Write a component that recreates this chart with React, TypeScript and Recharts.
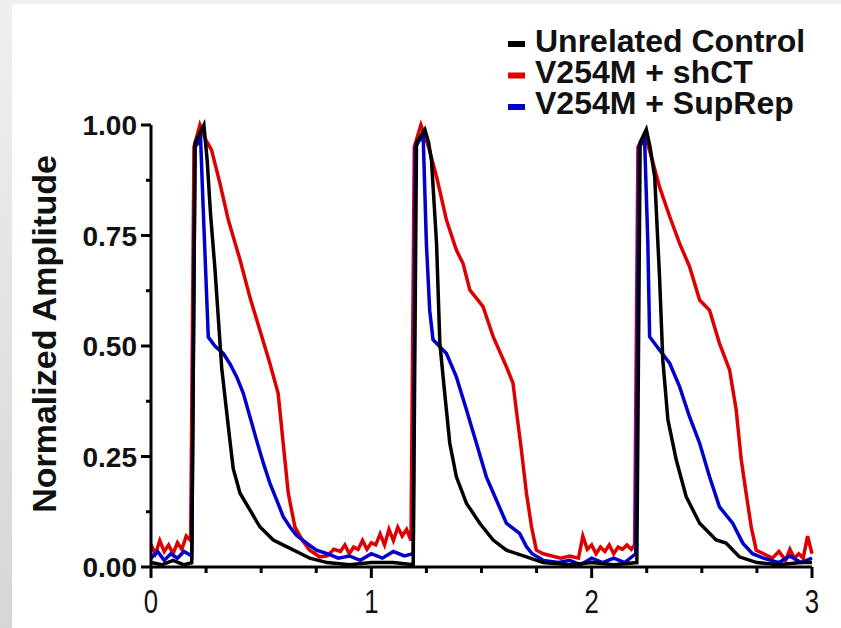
import React from "react";
import { LineChart, Line, XAxis, YAxis, Legend } from "recharts";

// Time (s) / normalized amplitude pairs
const controlTrace: [number, number][] = [
  [0, 0.01], [0.05, 0.005], [0.1, 0.015], [0.15, 0.005], [0.185, 0.01],
  [0.2, 0.96], [0.24, 1.0], [0.255, 0.92], [0.27, 0.8], [0.29, 0.676], [0.321, 0.45],
  [0.351, 0.317], [0.373, 0.223], [0.404, 0.167], [0.449, 0.129], [0.494, 0.091],
  [0.555, 0.061], [0.615, 0.046], [0.676, 0.031], [0.72, 0.02], [0.8, 0.01],
  [0.9, 0.005], [1.0, 0.01], [1.1, 0.01], [1.19, 0.005],
  [1.205, 0.96], [1.243, 0.99], [1.26, 0.96], [1.273, 0.92], [1.296, 0.732], [1.311, 0.506],
  [1.333, 0.393], [1.356, 0.28], [1.386, 0.204], [1.432, 0.144], [1.492, 0.099],
  [1.553, 0.061], [1.613, 0.038], [1.704, 0.023], [1.78, 0.01], [1.9, 0.005],
  [2.0, 0.01], [2.1, 0.005], [2.205, 0.01],
  [2.22, 0.96], [2.248, 0.99], [2.265, 0.95], [2.286, 0.883], [2.308, 0.657], [2.323, 0.468],
  [2.346, 0.333], [2.384, 0.242], [2.429, 0.159], [2.49, 0.099], [2.565, 0.061],
  [2.61, 0.054], [2.67, 0.023], [2.75, 0.01], [2.85, 0.005], [2.95, 0.01], [3.0, 0.01],
];

const shctTrace: [number, number][] = [
  [0, 0.05], [0.02, 0.03], [0.04, 0.06], [0.06, 0.035], [0.08, 0.05], [0.1, 0.03],
  [0.12, 0.055], [0.14, 0.04], [0.16, 0.07], [0.18, 0.06],
  [0.195, 0.95], [0.222, 1.0], [0.245, 0.97], [0.275, 0.943], [0.313, 0.868],
  [0.351, 0.785], [0.404, 0.695], [0.449, 0.61], [0.494, 0.536], [0.54, 0.46],
  [0.577, 0.393], [0.6, 0.28], [0.623, 0.167], [0.653, 0.091], [0.69, 0.058],
  [0.72, 0.038], [0.766, 0.023], [0.8, 0.025], [0.83, 0.04], [0.86, 0.035],
  [0.88, 0.05], [0.9, 0.03], [0.92, 0.045], [0.94, 0.04], [0.96, 0.06], [0.98, 0.04],
  [1.0, 0.055], [1.02, 0.05], [1.04, 0.075], [1.06, 0.05], [1.08, 0.085], [1.1, 0.06],
  [1.12, 0.09], [1.14, 0.07], [1.16, 0.085], [1.18, 0.06],
  [1.195, 0.95], [1.225, 1.0], [1.26, 0.95], [1.296, 0.883], [1.341, 0.785],
  [1.386, 0.717], [1.416, 0.687], [1.447, 0.627], [1.507, 0.589], [1.553, 0.521],
  [1.613, 0.453], [1.643, 0.416], [1.658, 0.355], [1.681, 0.265], [1.704, 0.167],
  [1.727, 0.091], [1.749, 0.038], [1.78, 0.03], [1.82, 0.025], [1.86, 0.02],
  [1.9, 0.025], [1.94, 0.02], [1.96, 0.07], [1.98, 0.04], [2.0, 0.05], [2.02, 0.03],
  [2.04, 0.045], [2.06, 0.035], [2.08, 0.05], [2.1, 0.03], [2.12, 0.045], [2.14, 0.04],
  [2.16, 0.05], [2.18, 0.04], [2.195, 0.05],
  [2.21, 0.95], [2.24, 0.98], [2.27, 0.93], [2.308, 0.86], [2.354, 0.793],
  [2.399, 0.732], [2.444, 0.68], [2.49, 0.604], [2.535, 0.581], [2.58, 0.506],
  [2.626, 0.446], [2.656, 0.355], [2.679, 0.242], [2.701, 0.167], [2.724, 0.091],
  [2.747, 0.038], [2.78, 0.03], [2.82, 0.02], [2.85, 0.035], [2.88, 0.015],
  [2.9, 0.04], [2.92, 0.02], [2.94, 0.03], [2.96, 0.02], [2.98, 0.07], [3.0, 0.03],
];

const suprepTrace: [number, number][] = [
  [0, 0.02], [0.03, 0.035], [0.06, 0.015], [0.09, 0.03], [0.12, 0.02], [0.15, 0.035],
  [0.185, 0.025],
  [0.2, 0.95], [0.225, 0.97], [0.237, 0.81], [0.252, 0.62], [0.26, 0.52], [0.29, 0.5],
  [0.328, 0.483], [0.358, 0.46], [0.389, 0.43], [0.419, 0.393], [0.449, 0.34],
  [0.479, 0.287], [0.51, 0.235], [0.54, 0.189], [0.57, 0.152], [0.6, 0.114],
  [0.63, 0.091], [0.66, 0.072], [0.706, 0.054], [0.751, 0.038], [0.8, 0.03],
  [0.85, 0.02], [0.9, 0.025], [0.95, 0.015], [1.0, 0.03], [1.05, 0.02], [1.1, 0.035],
  [1.15, 0.025], [1.19, 0.03],
  [1.2, 0.95], [1.235, 0.98], [1.25, 0.73], [1.265, 0.58], [1.28, 0.514], [1.341, 0.483],
  [1.386, 0.43], [1.432, 0.355], [1.477, 0.28], [1.522, 0.204], [1.567, 0.152],
  [1.613, 0.099], [1.673, 0.076], [1.704, 0.046], [1.73, 0.03], [1.78, 0.015],
  [1.85, 0.01], [1.9, 0.015], [1.95, 0.005], [2.0, 0.02], [2.05, 0.01], [2.1, 0.02],
  [2.15, 0.01], [2.2, 0.03],
  [2.215, 0.95], [2.24, 0.97], [2.255, 0.732], [2.263, 0.521], [2.308, 0.491],
  [2.354, 0.461], [2.399, 0.408], [2.444, 0.34], [2.49, 0.28], [2.535, 0.204],
  [2.58, 0.136], [2.64, 0.099], [2.686, 0.054], [2.73, 0.03], [2.78, 0.02],
  [2.85, 0.01], [2.9, 0.025], [2.95, 0.01], [3.0, 0.02],
];

const xTicks = [0, 0.25, 0.5, 0.75, 1, 1.25, 1.5, 1.75, 2, 2.25, 2.5, 2.75, 3];
const xMajor = [0, 1, 2, 3];
const yTicks = [0, 0.125, 0.25, 0.375, 0.5, 0.625, 0.75, 0.875, 1];
const yMajor = [0, 0.25, 0.5, 0.75, 1];
const yLabels = ["0.00", "0.25", "0.50", "0.75", "1.00"];

const seriesNames = ["Unrelated Control", "V254M + shCT", "V254M + SupRep"];
const seriesColors = ["#000000", "#dd0000", "#0000cc"];

const toRows = (pts: [number, number][]) => pts.map(([t, v]) => ({ t, v }));
const controlData = toRows(controlTrace);
const shctData = toRows(shctTrace);
const suprepData = toRows(suprepTrace);

const FONT = "'Liberation Sans', Arial, sans-serif";

const YTick = (props: any) => {
  const { x, y, payload } = props;
  const major = yMajor.includes(payload.value);
  const idx = yMajor.indexOf(payload.value);
  return (
    <g>
      <line x1={x - (major ? 10 : 5)} x2={x} y1={y} y2={y} stroke="#000" strokeWidth={3} />
      {major && (
        <text
          x={x - 14}
          y={y}
          dy={10}
          textAnchor="end"
          fontFamily={FONT}
          fontWeight="bold"
          fontSize={28}
          fill="#111"
        >
          {yLabels[idx]}
        </text>
      )}
    </g>
  );
};

const XTick = (props: any) => {
  const { x, y, payload } = props;
  const major = xMajor.includes(payload.value);
  return (
    <g>
      <line x1={x} x2={x} y1={y} y2={y + (major ? 11 : 6)} stroke="#000" strokeWidth={3} />
      {major && (
        <text
          transform={`translate(${x},${y + 46}) scale(0.78,1)`}
          textAnchor="middle"
          fontFamily={FONT}
          fontSize={33}
          fill="#111"
        >
          {String(payload.value)}
        </text>
      )}
    </g>
  );
};

const LegendBox = () => (
  <svg width={340} height={110} style={{ display: "block" }}>
    {seriesNames.map((name, i) => (
      <g key={name}>
        <rect x={3} y={19 + i * 31.5} width={17} height={6} fill={seriesColors[i]} />
        <text x={30} y={30 + i * 31} fontFamily={FONT} fontWeight="bold" fontSize={32} fill="#111">
          {name}
        </text>
      </g>
    ))}
  </svg>
);

export default function App() {
  return (
    <div
      style={{
        position: "absolute",
        left: 0,
        top: 0,
        width: 841,
        height: 628,
        background: "linear-gradient(to bottom, #f0f0f0, #d6d6d6)",
        overflow: "hidden",
      }}
    >
      <div
        style={{
          position: "absolute",
          left: 12,
          top: 4,
          width: 829,
          height: 624,
          background: "#ffffff",
        }}
      />
      <div style={{ position: "absolute", left: 0, top: 0 }}>
        <LineChart width={841} height={628} margin={{ top: 125, right: 29, bottom: 11, left: 0 }}>
          <XAxis
            dataKey="t"
            type="number"
            domain={[0, 3]}
            ticks={xTicks}
            interval={0}
            tickSize={0}
            tickMargin={0}
            tickLine={false}
            height={50}
            axisLine={{ stroke: "#000", strokeWidth: 3 }}
            tick={<XTick />}
          />
          <YAxis
            type="number"
            domain={[0, 1]}
            ticks={yTicks}
            interval={0}
            tickSize={0}
            tickMargin={0}
            tickLine={false}
            width={151}
            axisLine={{ stroke: "#000", strokeWidth: 3 }}
            tick={<YTick />}
            label={{
              content: () => (
                <text
                  x={44}
                  y={334}
                  transform="rotate(-90, 44, 334)"
                  textAnchor="middle"
                  dominantBaseline="central"
                  fontFamily={FONT}
                  fontWeight="bold"
                  fontSize={34}
                  fill="#111"
                >
                  Normalized Amplitude
                </text>
              ),
            }}
          />
          <Legend
            layout="horizontal"
            verticalAlign="middle"
            align="center"
            content={() => <LegendBox />}
            wrapperStyle={{ position: "absolute", left: 505, top: 22, width: 340, height: 110 }}
          />
          <Line
            data={shctData}
            dataKey="v"
            name={seriesNames[1]}
            stroke={seriesColors[1]}
            strokeWidth={3.5}
            dot={false}
            type="linear"
            isAnimationActive={false}
          />
          <Line
            data={suprepData}
            dataKey="v"
            name={seriesNames[2]}
            stroke={seriesColors[2]}
            strokeWidth={3.5}
            dot={false}
            type="linear"
            isAnimationActive={false}
          />
          <Line
            data={controlData}
            dataKey="v"
            name={seriesNames[0]}
            stroke={seriesColors[0]}
            strokeWidth={3.5}
            dot={false}
            type="linear"
            isAnimationActive={false}
          />
        </LineChart>
      </div>
    </div>
  );
}
